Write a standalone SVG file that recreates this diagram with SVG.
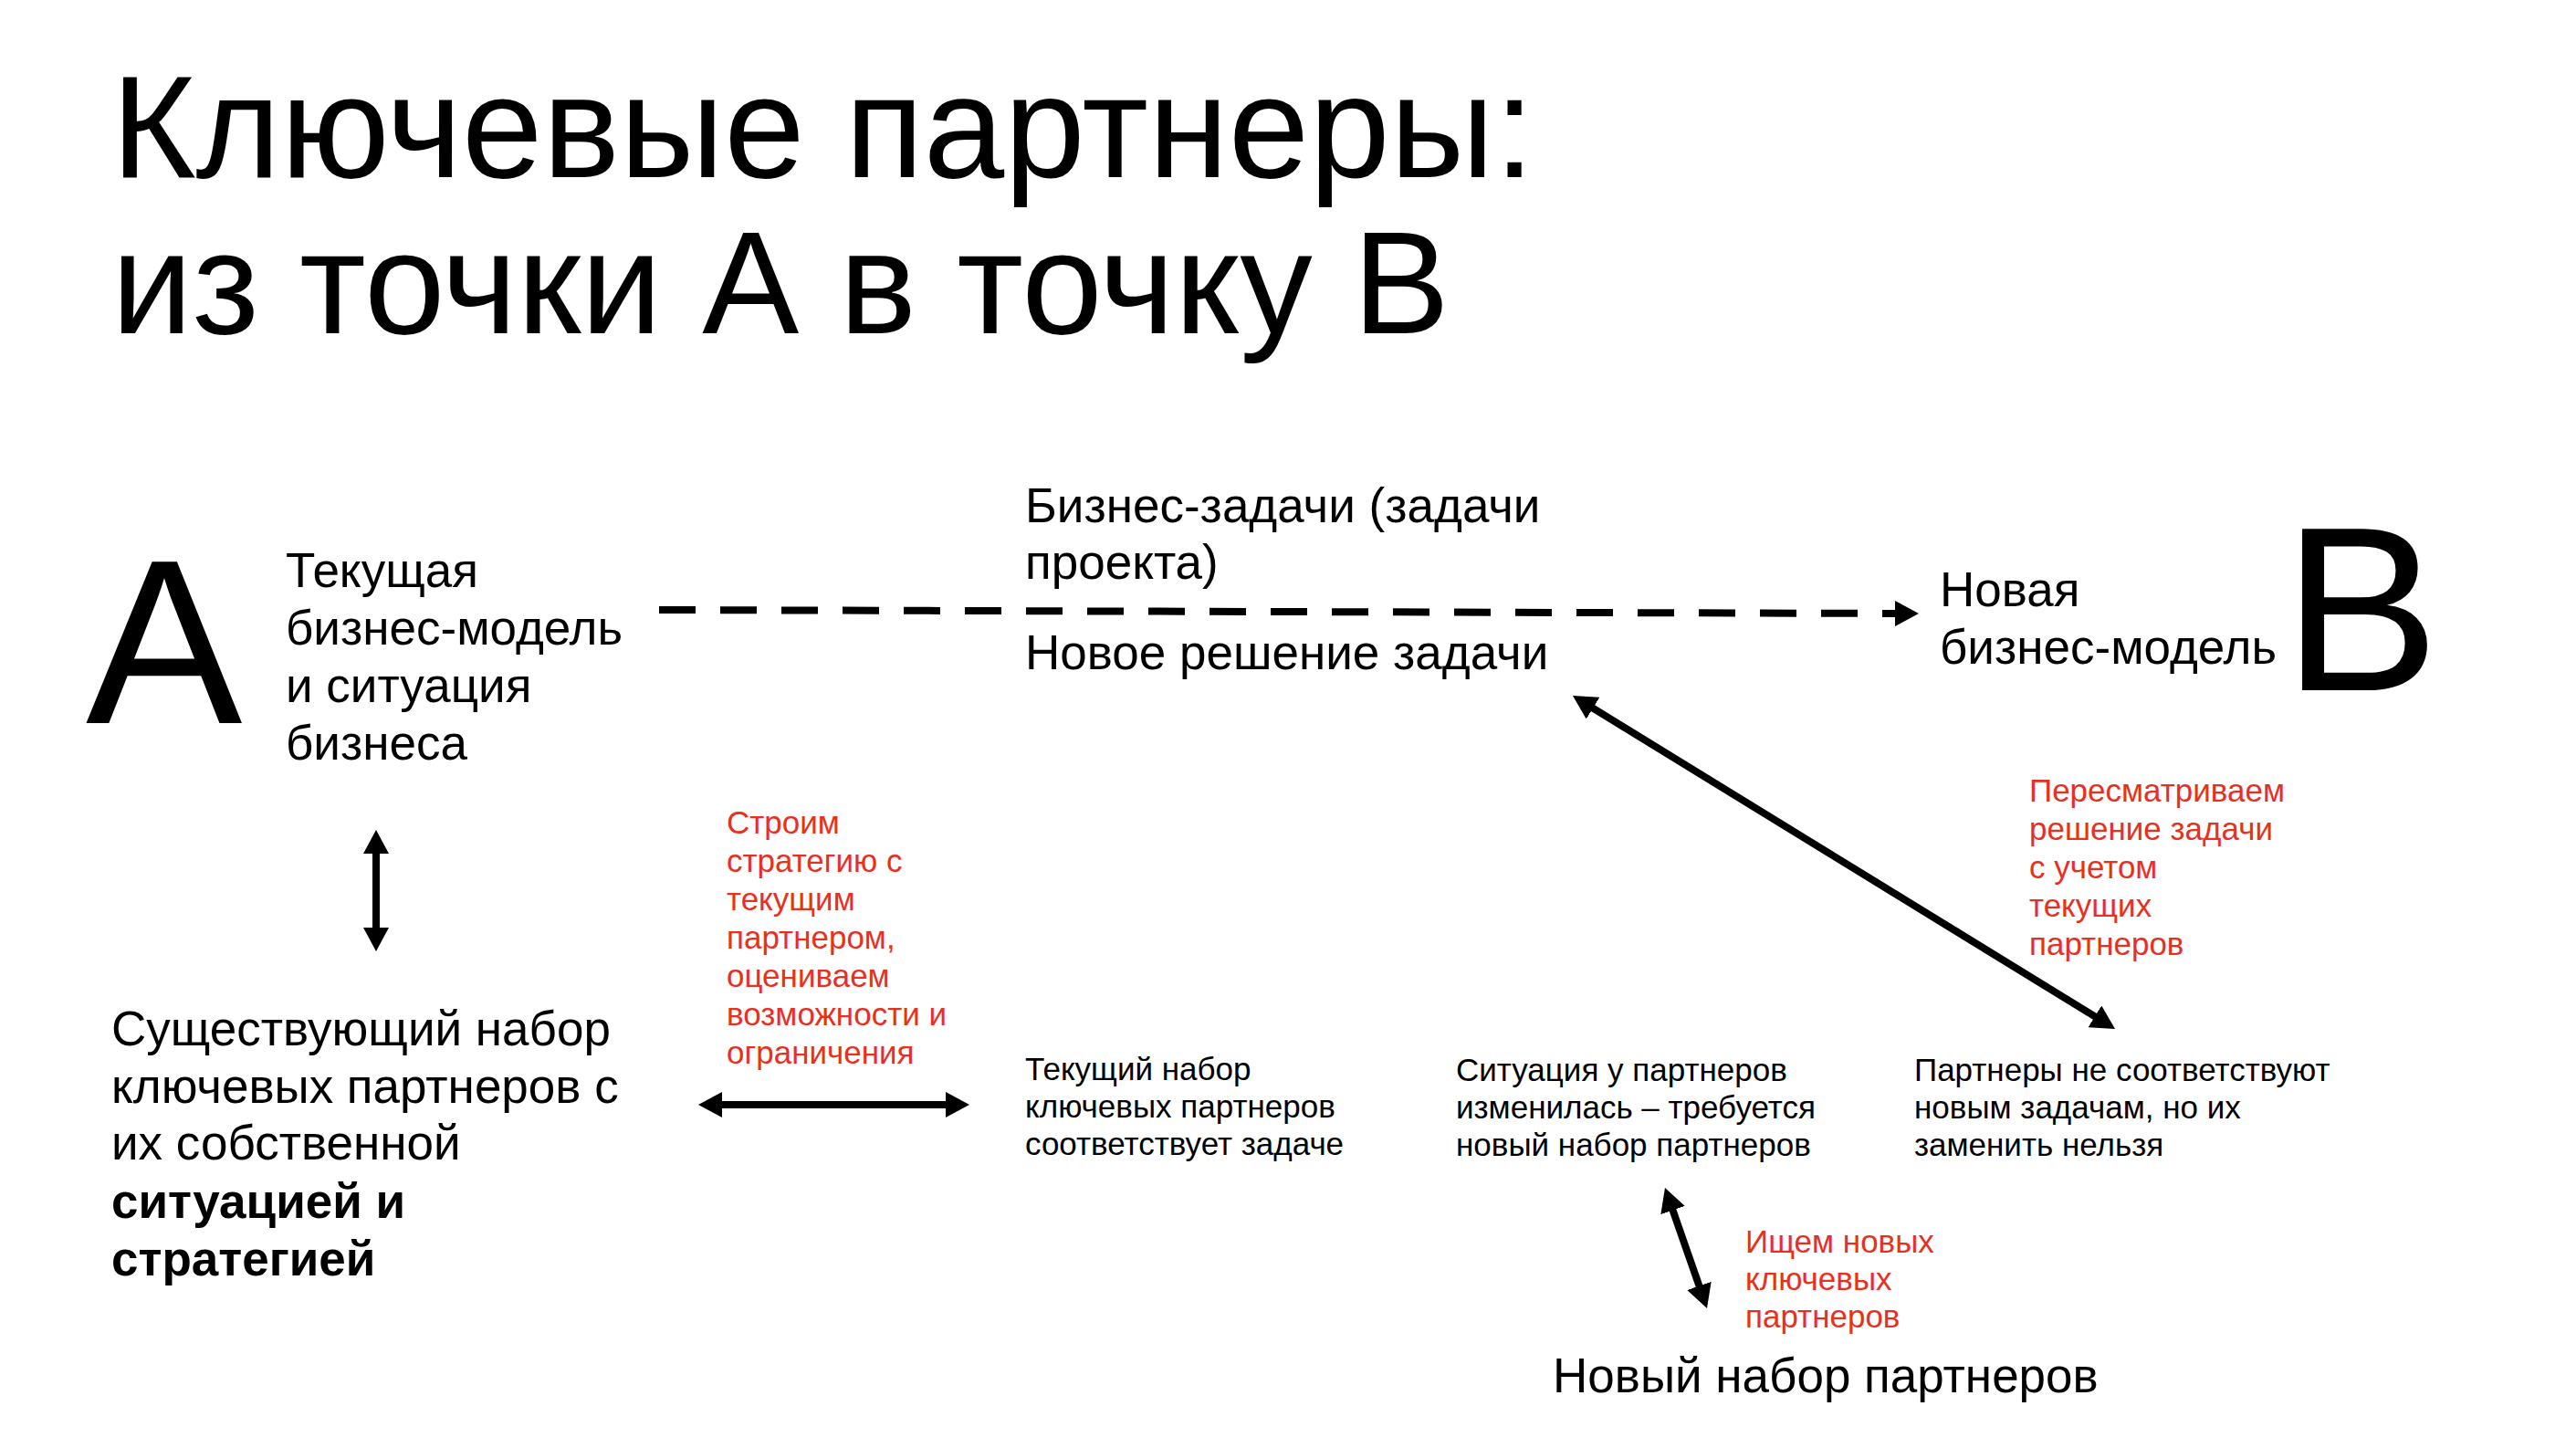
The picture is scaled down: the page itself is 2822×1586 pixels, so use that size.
<svg xmlns="http://www.w3.org/2000/svg" width="2822" height="1586" viewBox="0 0 2822 1586">
<style>
text{font-family:"Liberation Sans",Arial,sans-serif;fill:#000}
.title{font-size:159px}
.big{font-size:257px}
.t{font-size:53px}
.s{font-size:35px}
.red{fill:#e8301f}
.b{font-weight:bold}
.arr{stroke:#000;stroke-width:8;fill:none}
</style>
<defs>
<marker id="ah" markerUnits="userSpaceOnUse" viewBox="0 0 26 28" markerWidth="26" markerHeight="28" refX="2" refY="14" orient="auto-start-reverse">
<path d="M0,0 L26,14 L0,28 z" fill="#000"/>
</marker>
</defs>
<rect width="2822" height="1586" fill="#fff"/>
<g id="title">
<text class="title" x="122" y="194">Ключевые партнеры:</text>
<text class="title" x="122" y="365">из точки А в точку В</text>
</g>
<g id="node-A">
<text class="big" x="94" y="792">A</text>
<text class="t" x="313"><tspan x="313" y="643">Текущая</tspan><tspan x="313" y="706">бизнес-модель</tspan><tspan x="313" y="769">и ситуация</tspan><tspan x="313" y="832">бизнеса</tspan></text>
</g>
<g id="node-tasks">
<text class="t"><tspan x="1123" y="572">Бизнес-задачи (задачи</tspan><tspan x="1123" y="634">проекта)</tspan></text>
</g>
<g id="node-solution">
<text class="t" x="1123" y="733">Новое решение задачи</text>
</g>
<g id="node-B">
<text class="t"><tspan x="2125" y="664">Новая</tspan><tspan x="2125" y="727">бизнес-модель</tspan></text>
<text class="big" x="2501" y="756">B</text>
</g>
<g id="node-existing">
<text class="t"><tspan x="122" y="1145">Существующий набор</tspan><tspan x="122" y="1208">ключевых партнеров с</tspan><tspan x="122" y="1270">их собственной</tspan><tspan x="122" y="1334" class="b">ситуацией и</tspan><tspan x="122" y="1397" class="b">стратегией</tspan></text>
</g>
<g id="label-strategy">
<text class="s red"><tspan x="796" y="913">Строим</tspan><tspan x="796" y="955">стратегию с</tspan><tspan x="796" y="997">текущим</tspan><tspan x="796" y="1039">партнером,</tspan><tspan x="796" y="1081">оцениваем</tspan><tspan x="796" y="1123">возможности и</tspan><tspan x="796" y="1165">ограничения</tspan></text>
</g>
<g id="node-current-set">
<text class="s"><tspan x="1123" y="1183">Текущий набор</tspan><tspan x="1123" y="1224">ключевых партнеров</tspan><tspan x="1123" y="1265">соответствует задаче</tspan></text>
</g>
<g id="node-situation-changed">
<text class="s"><tspan x="1595" y="1184">Ситуация у партнеров</tspan><tspan x="1595" y="1225">изменилась – требуется</tspan><tspan x="1595" y="1266">новый набор партнеров</tspan></text>
</g>
<g id="node-cannot-replace">
<text class="s"><tspan x="2097" y="1184">Партнеры не соответствуют</tspan><tspan x="2097" y="1225">новым задачам, но их</tspan><tspan x="2097" y="1266">заменить нельзя</tspan></text>
</g>
<g id="label-revise">
<text class="s red"><tspan x="2223" y="878">Пересматриваем</tspan><tspan x="2223" y="920">решение задачи</tspan><tspan x="2223" y="962">с учетом</tspan><tspan x="2223" y="1004">текущих</tspan><tspan x="2223" y="1046">партнеров</tspan></text>
</g>
<g id="label-search">
<text class="s red"><tspan x="1912" y="1372">Ищем новых</tspan><tspan x="1912" y="1413">ключевых</tspan><tspan x="1912" y="1454">партнеров</tspan></text>
</g>
<g id="node-new-set">
<text class="t" x="1701" y="1525">Новый набор партнеров</text>
</g>
<g id="connectors">
<line class="arr" x1="722" y1="668" x2="2078" y2="672" stroke-dasharray="40 27" marker-end="url(#ah)"/>
<line class="arr" x1="412" y1="933" x2="412" y2="1018" marker-start="url(#ah)" marker-end="url(#ah)"/>
<line class="arr" x1="789" y1="1210" x2="1038" y2="1210" marker-start="url(#ah)" marker-end="url(#ah)"/>
<line class="arr" x1="1743.4" y1="774.6" x2="2296.6" y2="1114.4" marker-start="url(#ah)" marker-end="url(#ah)"/>
<line class="arr" x1="1831.9" y1="1323.7" x2="1862.1" y2="1410.3" marker-start="url(#ah)" marker-end="url(#ah)"/>
</g>
</svg>
